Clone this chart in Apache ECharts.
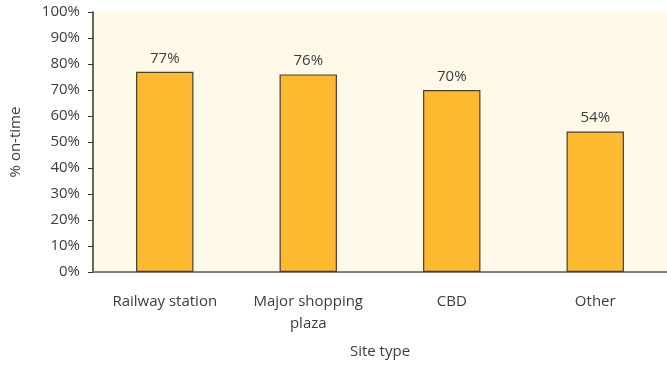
<!DOCTYPE html>
<html>
<head>
<meta charset="utf-8">
<style>
html, body { margin: 0; padding: 0; background: #fff; }
#chart { width: 667px; height: 365px; }
</style>
<script src="https://cdn.jsdelivr.net/npm/echarts@6/dist/echarts.min.js"></script>
</head>
<body>
<div id="chart"></div>
<script>
// site types and on-time share (%)
let siteTypes = ['Railway station', 'Major shopping\nplaza', 'CBD', 'Other'];
let onTime = [77, 76, 70, 54];

let chart = echarts.init(document.getElementById('chart'));
let txt = '#3c3c3c';
let font = '"Open Sans", "Noto Sans", sans-serif';

let option = {
    animation: false,
    textStyle: { fontFamily: font },
    grid: {
        left: 92,
        right: -4,
        top: 12,
        bottom: 93,
        show: true,
        backgroundColor: '#FFF9EA',
        borderWidth: 0
    },
    xAxis: {
        type: 'category',
        data: siteTypes,
        name: 'Site type',
        nameLocation: 'center',
        nameGap: 72,
        nameTextStyle: { color: txt, fontSize: 15, fontFamily: font },
        axisLine: { lineStyle: { color: '#808080', width: 2 } },
        axisTick: { show: false },
        axisLabel: { color: txt, fontSize: 15, fontFamily: font, margin: 19, lineHeight: 22 }
    },
    yAxis: {
        type: 'value',
        min: 0,
        max: 100,
        interval: 10,
        name: '% on-time',
        nameLocation: 'center',
        nameGap: 70,
        nameTextStyle: { color: txt, fontSize: 15, fontFamily: font },
        axisLine: { show: true, lineStyle: { color: '#333', width: 1.5 } },
        axisTick: { show: true, length: 5, lineStyle: { color: '#333' } },
        splitLine: { show: false },
        axisLabel: { color: txt, fontSize: 15, fontFamily: font, margin: 13, formatter: '{value}%' }
    },
    series: [{
        type: 'bar',
        data: onTime,
        barWidth: '40%',
        itemStyle: { color: '#FDBA30', borderColor: '#4a3d2e', borderWidth: 1.2 },
        label: {
            show: true,
            position: 'top',
            distance: 6,
            formatter: '{c}%',
            color: txt,
            fontSize: 15,
            fontFamily: font
        }
    }]
};

chart.setOption(option);
</script>
</body>
</html>
